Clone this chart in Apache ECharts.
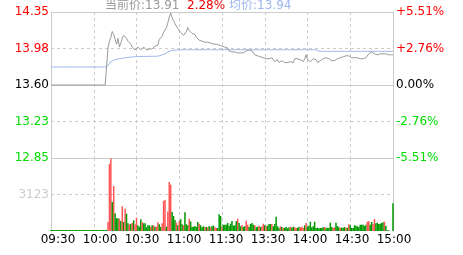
<!DOCTYPE html>
<html><head><meta charset="utf-8">
<script src="https://cdn.jsdelivr.net/npm/echarts@6/dist/echarts.min.js"></script>
<style>html,body{margin:0;padding:0;background:#fff}#c{width:463px;height:255px}</style>
</head><body><div id="c"></div>
<script>
// ---- data ----
const priceLabels = ['12.85','13.23','13.60','13.98','14.35'];
const pctLabels = ['-5.51%','-2.76%','0.00%','+2.76%','+5.51%'];
const volLabels = ['', '3123', ''];
const timeLabels = ['09:30','10:00','10:30','11:00','11:30','13:30','14:00','14:30','15:00'];
const headerPrice = '13.91';
const headerPct = '2.28%';
const headerAvg = '13.94';

const price = [
13.60,13.60,13.60,13.60,13.60,13.60,13.60,13.60,13.60,13.60,
13.60,13.60,13.60,13.60,13.60,13.60,13.60,13.60,13.60,13.60,
13.60,13.60,13.60,13.60,13.60,13.60,13.60,13.60,13.60,13.60,
13.60,13.60,13.60,13.60,13.60,13.60,13.60,13.60,13.60,13.60,
13.98,14.05,14.09,14.15,14.12,14.07,14.02,14.08,13.99,14.03,
14.08,14.11,14.10,14.08,14.05,14.04,14.02,13.99,13.98,13.96,
13.98,13.99,13.97,13.96,13.98,13.99,13.98,13.96,13.95,13.97,
13.98,13.97,13.99,14.00,14.02,14.01,14.07,14.07,14.10,14.14,
14.16,14.19,14.24,14.30,14.34,14.29,14.26,14.23,14.21,14.18,
14.16,14.14,14.12,14.11,14.10,14.15,14.19,14.16,14.14,14.13,
14.12,14.12,14.09,14.07,14.06,14.06,14.05,14.05,14.04,14.04,
14.04,14.03,14.03,14.02,14.02,14.01,14.02,14.01,14.01,14.00,
14.00,14.01,13.99,14.01,13.98,13.95,13.93,13.94,13.95,13.94,
13.93,13.93,13.94,13.93,13.94,13.93,13.93,13.95,13.96,13.96,
13.96,13.95,13.93,13.91,13.89,13.90,13.89,13.89,13.89,13.88,
13.88,13.87,13.88,13.87,13.87,13.88,13.86,13.84,13.85,13.86,
13.83,13.84,13.85,13.84,13.83,13.82,13.83,13.84,13.84,13.83,
13.83,13.87,13.88,13.87,13.87,13.86,13.85,13.84,13.87,13.91,
13.86,13.85,13.84,13.83,13.87,13.89,13.86,13.83,13.84,13.85,
13.86,13.87,13.88,13.88,13.87,13.87,13.86,13.85,13.84,13.85,
13.86,13.87,13.88,13.88,13.89,13.89,13.89,13.90,13.90,13.90,
13.89,13.88,13.88,13.88,13.88,13.88,13.88,13.87,13.87,13.87,
13.88,13.88,13.90,13.92,13.93,13.94,13.92,13.92,13.93,13.91,
13.91,13.92,13.92,13.92,13.92,13.92,13.91,13.91,13.91,13.91,13.91
];

const avgPrice = [
13.785,13.785,13.785,13.785,13.785,13.785,13.785,13.785,13.785,13.785,
13.785,13.785,13.785,13.785,13.785,13.785,13.785,13.785,13.785,13.785,
13.785,13.785,13.785,13.785,13.785,13.785,13.785,13.785,13.785,13.785,
13.785,13.785,13.785,13.785,13.785,13.785,13.785,13.785,13.785,13.785,
13.80,13.82,13.84,13.85,13.855,13.86,13.865,13.87,13.87,13.875,
13.875,13.878,13.88,13.88,13.883,13.885,13.887,13.889,13.89,13.891,
13.892,13.892,13.892,13.893,13.893,13.893,13.894,13.894,13.894,13.894,
13.895,13.895,13.895,13.895,13.895,13.897,13.90,13.905,13.91,13.915,
13.92,13.93,13.94,13.947,13.952,13.955,13.957,13.958,13.959,13.96,
13.962,13.962,13.962,13.962,13.962,13.962,13.962,13.962,13.962,13.962,
13.962,13.962,13.962,13.962,13.962,13.962,13.962,13.962,13.962,13.962,
13.962,13.962,13.962,13.962,13.962,13.962,13.962,13.962,13.962,13.962,
13.962,13.962,13.962,13.962,13.962,13.962,13.962,13.962,13.962,13.962,
13.962,13.962,13.962,13.962,13.962,13.962,13.962,13.962,13.962,13.962,
13.962,13.962,13.962,13.962,13.962,13.962,13.962,13.962,13.962,13.962,
13.962,13.962,13.962,13.962,13.962,13.962,13.962,13.962,13.962,13.962,
13.962,13.962,13.962,13.962,13.962,13.962,13.962,13.962,13.962,13.962,
13.962,13.962,13.962,13.962,13.962,13.962,13.962,13.962,13.962,13.962,
13.962,13.962,13.962,13.962,13.962,13.962,13.962,13.962,13.946,13.946,
13.946,13.946,13.946,13.946,13.946,13.946,13.946,13.946,13.946,13.946,
13.946,13.946,13.946,13.946,13.946,13.946,13.946,13.946,13.946,13.946,
13.946,13.946,13.946,13.946,13.946,13.946,13.946,13.946,13.946,13.946,
13.946,13.946,13.946,13.946,13.946,13.946,13.946,13.946,13.946,13.946,
13.946,13.946,13.946,13.946,13.946,13.946,13.946,13.946,13.946,13.946,13.946
];

const volume = [
86,86,86,86,86,86,86,86,86,86,
86,86,86,86,86,86,86,86,86,86,
86,86,86,86,86,86,86,86,86,86,
86,86,86,86,86,86,86,86,86,86,
770,5735,6200,2482,3852,1515,1087,1087,1053,856,
2114,770,1909,1481,659,574,625,685,916,574,
1138,488,368,1002,770,659,659,317,488,488,
368,488,488,368,368,745,574,342,659,2568,
2654,368,1669,4194,3963,1626,1284,942,710,488,
856,1002,574,488,1601,574,488,1053,813,342,
368,428,342,770,625,488,317,402,317,342,
317,428,317,428,454,317,257,257,1430,1284,
368,539,539,539,685,428,625,856,454,488,
830,1053,685,402,514,342,402,882,539,342,
599,685,539,488,317,368,454,342,402,625,
488,402,454,599,599,599,402,599,1224,402,
257,402,342,257,282,342,231,317,368,282,
368,317,257,282,368,317,368,257,488,685,
368,454,796,317,402,796,257,282,231,257,
257,317,342,231,282,257,710,342,257,317,
710,428,317,282,282,282,342,282,282,574,
488,257,257,488,454,402,342,539,539,539,
428,539,796,830,539,770,599,1027,659,710,
599,625,685,745,796,454,60,60,0,0,2371
];

const volUp = [
0,0,0,0,0,0,0,0,0,0, 0,0,0,0,0,0,0,0,0,0, 0,0,0,0,0,0,0,0,0,0, 0,0,0,0,0,0,0,0,0,0,
1,1,1,0,1,0,0,0,1,0,
1,0,1,0,0,1,0,1,0,1,
1,0,0,0,1,0,0,0,0,0,
1,0,1,0,1,1,0,0,1,1,
1,0,1,1,1,0,0,0,1,0,
1,0,0,1,0,0,0,1,0,0,
0,0,0,0,1,0,0,0,1,0,
1,0,1,0,0,1,1,0,0,0,
1,0,0,0,0,0,0,0,0,0,
0,1,0,0,1,0,0,1,1,0,
0,0,0,1,0,0,1,0,1,1,
0,1,0,0,0,1,0,0,0,0,
0,1,0,1,0,0,0,0,1,0,
0,1,1,0,0,1,1,1,0,1,
0,0,0,0,0,0,0,0,0,0,
0,0,1,0,0,0,0,0,1,1,
0,0,0,1,0,0,0,1,0,1,
0,0,0,0,0,0,0,0,0,0,
0,0,1,1,0,0,1,1,0,0,
0,0,0,0,1,0,0,0,0,0,0
];

// minute categories 09:30-11:30, 13:01-15:00
const times = [];
(function(){
  function push(h,m){ times.push((h<10?'0':'')+h+':'+(m<10?'0':'')+m); }
  for (let t = 9*60+30; t <= 11*60+30; t++) push(Math.floor(t/60), t%60);
  for (let t = 13*60+1; t <= 15*60; t++) push(Math.floor(t/60), t%60);
})();

// ---- chart ----
const FONT = '"DejaVu Sans", "Noto Sans CJK SC", sans-serif';
const GRID = '#cccccc';
const DASH = [3, 3];
const RED = '#ff0000', GREEN = '#00dd00';
const chart = echarts.init(document.getElementById('c'), null, {renderer: 'canvas'});

const catAxisBase = (gi) => ({
  gridIndex: gi, type: 'category', data: times, boundaryGap: false,
  axisLine: {show: false}, axisTick: {show: false}, axisLabel: {show: false},
  splitLine: {show: true, interval: 29, lineStyle: {color: GRID, type: DASH, width: 1}}
});

chart.setOption({
  animation: false,
  backgroundColor: '#fff',
  textStyle: {fontFamily: FONT},
  graphic: [
    {type: 'text', left: 105, top: 0, style: {text: '当前价:' + headerPrice, fill: '#999999', font: '12px ' + FONT}},
    {type: 'text', left: 187, top: 0, style: {text: headerPct, fill: '#ee0000', font: '12px ' + FONT}},
    {type: 'text', left: 229, top: 0, style: {text: '均价:' + headerAvg, fill: '#9db6ee', font: '12px ' + FONT}}
  ],
  grid: [
    {left: 51, top: 12, width: 342, height: 146},
    {left: 51, top: 158, width: 342, height: 73},
    {left: 58, top: 230, width: 336, height: 1}
  ],
  xAxis: [
    catAxisBase(0),
    catAxisBase(1),
    {gridIndex: 2, type: 'category', data: timeLabels, boundaryGap: false,
     axisLine: {show: false}, axisTick: {show: false}, splitLine: {show: false},
     axisLabel: {show: true, interval: 0, margin: 3, fontSize: 12, color: '#000', fontFamily: FONT,
                 showMinLabel: true, showMaxLabel: true}}
  ],
  yAxis: [
    {gridIndex: 0, type: 'value', position: 'left', min: -5.51, max: 5.51, interval: 2.755,
     axisLine: {show: true, lineStyle: {color: GRID}}, axisTick: {show: false},
     axisLabel: {margin: 2, fontSize: 12, fontFamily: FONT,
       formatter: (v, i) => {
         const s = priceLabels[i];
         return (i < 2 ? '{g|' : i === 2 ? '{k|' : '{r|') + s + '}';
       },
       rich: {g: {color: GREEN, fontSize: 12, fontFamily: FONT}, k: {color: '#000', fontSize: 12, fontFamily: FONT}, r: {color: RED, fontSize: 12, fontFamily: FONT}}},
     splitLine: {show: true, lineStyle: {color: GRID, type: DASH}}},
    {gridIndex: 0, type: 'value', position: 'right', min: -5.51, max: 5.51, interval: 2.755,
     axisLine: {show: true, lineStyle: {color: GRID}}, axisTick: {show: false},
     axisLabel: {margin: 3, fontSize: 12, fontFamily: FONT,
       formatter: (v, i) => {
         const s = pctLabels[i];
         return (i < 2 ? '{g|' : i === 2 ? '{k|' : '{r|') + s + '}';
       },
       rich: {g: {color: GREEN, fontSize: 12, fontFamily: FONT}, k: {color: '#000', fontSize: 12, fontFamily: FONT}, r: {color: RED, fontSize: 12, fontFamily: FONT}}},
     splitLine: {show: false}},
    {gridIndex: 0, type: 'value', min: 12.85, max: 14.35, show: false},
    {gridIndex: 0, type: 'value', min: -5.51, max: 5.51, interval: 5.51,
     axisLine: {show: false}, axisTick: {show: false}, axisLabel: {show: false},
     splitLine: {show: true, lineStyle: {color: GRID, type: 'solid'}}},
    {gridIndex: 1, type: 'value', position: 'left', min: 0, max: 6246, interval: 3123,
     axisLine: {show: true, lineStyle: {color: GRID}}, axisTick: {show: false},
     axisLabel: {margin: 2, fontSize: 12, color: '#cccccc', fontFamily: FONT,
                 formatter: (v, i) => volLabels[i] || ''},
     splitLine: {show: true, showMinLine: false, showMaxLine: false, lineStyle: {color: GRID, type: DASH}}},
    {gridIndex: 1, type: 'value', position: 'right', min: 0, max: 6246, interval: 3123,
     axisLine: {show: true, lineStyle: {color: GRID}}, axisTick: {show: false},
     axisLabel: {show: false}, splitLine: {show: false}},
    {gridIndex: 2, type: 'value', show: false}
  ],
  series: [
    {type: 'line', name: 'avg', xAxisIndex: 0, yAxisIndex: 2, data: avgPrice,
     showSymbol: false, symbol: 'none', lineStyle: {color: '#9db6ee', width: 1}, itemStyle: {color: '#9db6ee'}, silent: true},
    {type: 'line', name: 'price', xAxisIndex: 0, yAxisIndex: 2, data: price,
     showSymbol: false, symbol: 'none', lineStyle: {color: '#999999', width: 1}, itemStyle: {color: '#999999'}, silent: true},
    {type: 'bar', name: 'vol', xAxisIndex: 1, yAxisIndex: 4, data: volume, barWidth: 1.5, silent: true,
     itemStyle: {color: (p) => volUp[p.dataIndex] ? '#ff5555' : '#009900'}}
  ]
});
</script></body></html>
